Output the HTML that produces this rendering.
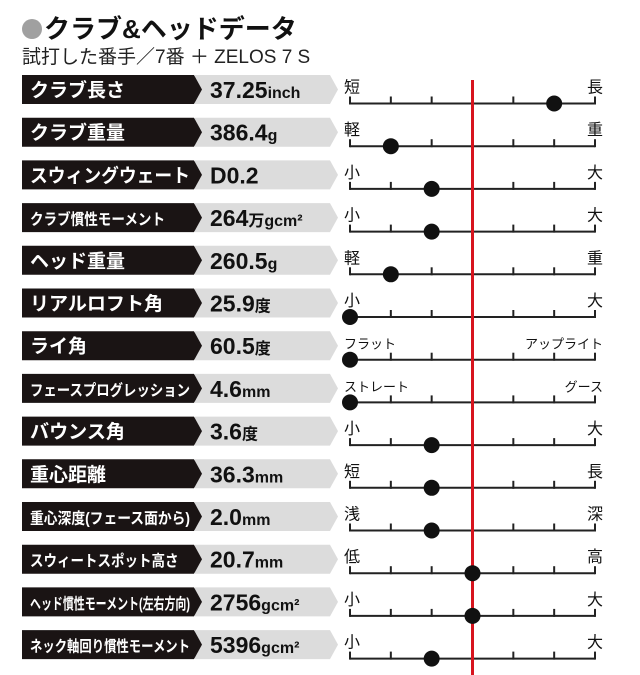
<!DOCTYPE html>
<html><head><meta charset="utf-8"><style>
body{margin:0;background:#fff;}
svg{display:block;font-family:"Liberation Sans","Noto Sans CJK JP",sans-serif;}
</style></head><body>
<svg id="c" width="640" height="675" viewBox="0 0 640 675">
<circle cx="32" cy="29" r="10" fill="#a0a0a0"/>
<text x="44" y="38" font-size="26" font-weight="bold" fill="#111">クラブ&amp;ヘッドデータ</text>
<text x="22" y="63" font-size="19" fill="#222">試打した番手／7番 ＋ ZELOS 7 S</text>
<g id="rows"></g>
</svg>
<script>
const labels=["クラブ長さ","クラブ重量","スウィングウェート","クラブ慣性モーメント","ヘッド重量","リアルロフト角","ライ角","フェースプログレッション","バウンス角","重心距離","重心深度(フェース面から)","スウィートスポット高さ","ヘッド慣性モーメント(左右方向)","ネック軸回り慣性モーメント"];
const valueNums=["37.25","386.4","D0.2","264","260.5","25.9","60.5","4.6","3.6","36.3","2.0","20.7","2756","5396"];
const valueUnits=["inch","g","","万gcm²","g","度","度","mm","度","mm","mm","mm","gcm²","gcm²"];
const leftEnds=["短","軽","小","小","軽","小","フラット","ストレート","小","短","浅","低","小","小"];
const rightEnds=["長","重","大","大","重","大","アップライト","グース","大","長","深","高","大","大"];
const positions=[5,1,2,2,1,0,0,0,2,2,2,3,3,2];
const refPos=3;
const NS="http://www.w3.org/2000/svg";
const g=document.getElementById('rows');
const x0=350,x1=595,steps=6;
const xs=v=>x0+(x1-x0)*v/steps;
const yc=i=>89.5+i*42.7;
function mk(t,a,p){const e=document.createElementNS(NS,t);for(const k in a)e.setAttribute(k,a[k]);(p||g).appendChild(e);return e;}
labels.forEach((lab,i)=>{
 const c=yc(i),t=c-14.5,b=c+14.5;
 const gray=mk('polygon',{points:`195,${t} 330,${t} 338,${c} 330,${b} 195,${b}`,fill:'#dcdcdc'});
 
 
 const blk=mk('polygon',{points:`22,${t} 194,${t} 202,${c} 194,${b} 22,${b}`,fill:'#1a1414'});
 
 
 const small=lab.length>9;
 const lt=mk('text',{x:30,y:c+7,'font-size':small?15.5:19,'font-weight':'bold',fill:'#fff',textLength:Math.min(160,lab.length*(small?13.5:19)),lengthAdjust:'spacingAndGlyphs'});
 lt.textContent=lab;
 
 
 const vt=mk('text',{x:210,y:c+8.5,'font-size':23,'font-weight':'bold',fill:'#111'});
 
 
 const s1=document.createElementNS(NS,'tspan');s1.textContent=valueNums[i];vt.appendChild(s1);
 const s2=document.createElementNS(NS,'tspan');s2.setAttribute('font-size','16');s2.textContent=valueUnits[i];vt.appendChild(s2);
 const ay=c+14;
 const ax=mk('line',{x1:x0,x2:x1,y1:ay,y2:ay,stroke:'#222','stroke-width':2});
 
 
 for(let k=0;k<=steps;k++){const tk=mk('line',{x1:xs(k),x2:xs(k),y1:ay-7,y2:ay+1,stroke:'#222','stroke-width':2});
  
  }
 const le=mk('text',{x:x0-6,y:c+3,'font-size':leftEnds[i].length>2?13:16,fill:'#111'});le.textContent=leftEnds[i];
 
 
 const re=mk('text',{x:x1+8,y:c+3,'font-size':rightEnds[i].length>2?13:16,fill:'#111','text-anchor':'end'});re.textContent=rightEnds[i];
 
 
});
const red=mk('line',{x1:xs(refPos),x2:xs(refPos),y1:80,y2:675,stroke:'#d7141e','stroke-width':3});


positions.forEach((p,i)=>{const d=mk('circle',{cx:xs(p),cy:yc(i)+14,r:8,fill:'#111'});
 
 });
</script>
</body></html>
